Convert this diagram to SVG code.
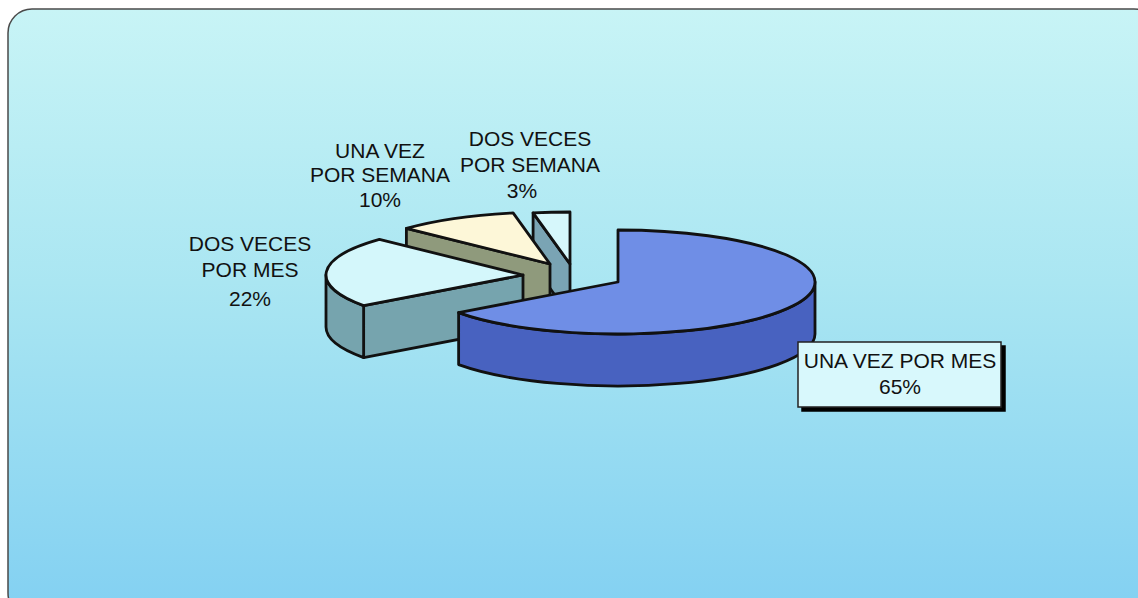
<svg xmlns="http://www.w3.org/2000/svg" width="1138" height="598" viewBox="0 0 1138 598">
<defs>
<linearGradient id="bg" x1="0" y1="0" x2="0" y2="1">
<stop offset="0" stop-color="#c8f4f6"/>
<stop offset="0.45" stop-color="#aae6f2"/>
<stop offset="1" stop-color="#82d0f2"/>
</linearGradient>
<filter id="sh" x="-10%" y="-10%" width="130%" height="140%">
<feOffset dx="4" dy="4" in="SourceAlpha" result="o"/>
<feMerge><feMergeNode in="o"/><feMergeNode in="SourceGraphic"/></feMerge>
</filter>
</defs>
<style>
.e{stroke:#111;stroke-width:2.8;stroke-linejoin:round}
.t{font-family:"Liberation Sans",Arial,sans-serif;font-size:21px;fill:#111;text-anchor:middle}
</style>
<rect x="0" y="0" width="1138" height="598" fill="#ffffff"/>
<rect x="8" y="9" width="1150" height="608" rx="24" fill="url(#bg)" stroke="#4a4a4a" stroke-width="1.5"/>
<g id="connectors"></g>
<g id="slice-3">
<path class="e" d="M 570,264 L 533.09,212.92 L 533.09,264.92 L 570,316 Z" fill="#7aa4b4"/>
<path class="e" d="M 570,264 L 533.09,212.92 A 197 52 0 0 1 570,212 Z" fill="#d6f7fb"/>
</g>
<g id="slice-10">
<path class="e" d="M 550,264 L 406.39,228.40 L 406.39,280.40 L 550,316 Z" fill="#8f9a7c"/>
<path class="e" d="M 550,264 L 406.39,228.40 A 197 52 0 0 1 513.09,212.92 Z" fill="#fdf7d8"/>
</g>
<g id="slice-22">
<path class="e" d="M 523,275 L 363.62,305.56 L 363.62,357.56 L 523,327 Z" fill="#76a4ae"/>
<path class="e" d="M 363.62,305.56 A 197 52 0 0 1 326,275 L 326,327 A 197 52 0 0 0 363.62,357.56 Z" fill="#76a4ae"/>
<path class="e" d="M 523,275 L 363.62,305.56 A 197 52 0 0 1 379.39,239.40 Z" fill="#d4f7fb"/>
</g>
<g id="slice-65">
<path class="e" d="M 815,282 A 197 52 0 0 1 458.62,312.56 L 458.62,364.56 A 197 52 0 0 0 815,334 Z" fill="#4862c0"/>
<path class="e" d="M 618,282 L 618,230 A 197 52 0 1 1 458.62,312.56 Z" fill="#6f8ee6"/>
</g>
<g id="label-10">
<text class="t" x="380" y="158">UNA VEZ</text>
<text class="t" x="380" y="182">POR SEMANA</text>
<text class="t" x="380" y="207">10%</text>
</g>
<g id="label-3">
<text class="t" x="530" y="146">DOS VECES</text>
<text class="t" x="530" y="172">POR SEMANA</text>
<text class="t" x="522" y="198">3%</text>
</g>
<g id="label-22">
<text class="t" x="250" y="251">DOS VECES</text>
<text class="t" x="250" y="277">POR MES</text>
<text class="t" x="250" y="306">22%</text>
</g>
<g id="label-65">
<rect x="798" y="342" width="203" height="65" fill="#d8f8fc" stroke="#222" stroke-width="1.5" filter="url(#sh)"/>
<text class="t" x="900" y="368">UNA VEZ POR MES</text>
<text class="t" x="900" y="394">65%</text>
</g>
</svg>
